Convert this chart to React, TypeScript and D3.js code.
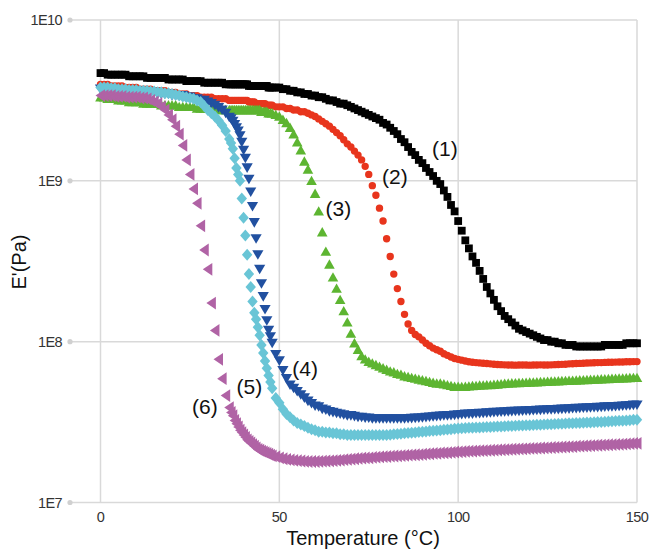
import React from "react";
import * as d3 from "d3";

// Temperature grid (°C) shared by all series
const temperature = [
  0, 1, 2, 3, 4, 5, 6, 7, 8, 9, 10, 11, 12, 13, 14, 15, 16, 17, 18, 19,
  20, 21, 22, 23, 24, 25, 26, 27, 28, 29, 30, 31, 32, 33, 34, 35, 36,
  36.5, 37, 37.5, 38, 38.5, 39, 39.5, 40,
  40.5, 41, 41.5, 42, 42.5, 43, 43.5, 44,
  44.5, 45, 45.5, 46, 46.5, 47, 47.5, 48,
  49, 50, 51, 52, 53, 54, 55, 56, 57, 58,
  59, 60, 61, 62, 63, 64, 65, 66, 67, 68,
  69, 70, 71, 72, 73, 74, 75, 76, 77, 78,
  79, 80, 81, 82, 83, 84, 85, 86, 87, 88,
  89, 90, 91, 92, 93, 94, 95, 96, 97, 98,
  99, 100, 101, 102, 103, 104, 105, 106, 107, 108,
  109, 110, 111, 112, 113, 114, 115, 116, 117, 118,
  119, 120, 121, 122, 123, 124, 125, 126, 127, 128,
  129, 130, 131, 132, 133, 134, 135, 136, 137, 138,
  139, 140, 141, 142, 143, 144, 145, 146, 147, 148,
  149, 150,
];

// log10 of E' (Pa)
const logE1 = [
  9.67, 9.67, 9.66, 9.66, 9.66, 9.66, 9.66, 9.66, 9.65, 9.65,
  9.65, 9.65, 9.65, 9.64, 9.64, 9.64, 9.64, 9.64, 9.64, 9.63,
  9.63, 9.63, 9.63, 9.63, 9.62, 9.62, 9.62, 9.62, 9.62, 9.61,
  9.61, 9.61, 9.61, 9.61, 9.61, 9.6, 9.6,
  9.6, 9.6, 9.6, 9.6, 9.6, 9.6, 9.6, 9.6,
  9.6, 9.6, 9.59, 9.59, 9.59, 9.59, 9.59, 9.59,
  9.59, 9.59, 9.59, 9.59, 9.59, 9.58, 9.58, 9.58,
  9.58, 9.58, 9.57, 9.57, 9.56, 9.56, 9.55, 9.55, 9.54, 9.54,
  9.53, 9.53, 9.52, 9.52, 9.51, 9.5, 9.5, 9.49, 9.48, 9.48,
  9.47, 9.46, 9.45, 9.44, 9.43, 9.42, 9.41, 9.4, 9.39, 9.38,
  9.36, 9.35, 9.33, 9.31, 9.29, 9.26, 9.24, 9.21, 9.18, 9.16,
  9.13, 9.11, 9.08, 9.055, 9.03, 9.0, 8.98, 8.94, 8.9, 8.85,
  8.81, 8.75, 8.69, 8.63, 8.58, 8.53, 8.49, 8.44, 8.39, 8.34,
  8.3, 8.26, 8.22, 8.19, 8.16, 8.14, 8.12, 8.1, 8.08, 8.07,
  8.06, 8.05, 8.04, 8.03, 8.02, 8.01, 8.01, 8.0, 8.0, 7.99,
  7.99, 7.98, 7.98, 7.98, 7.97, 7.97, 7.97, 7.97, 7.97, 7.97,
  7.97, 7.97, 7.98, 7.98, 7.98, 7.98, 7.98, 7.98, 7.99, 7.99,
  7.99, 7.99,
];

const logE2 = [
  9.6, 9.6, 9.6, 9.59, 9.59, 9.59, 9.59, 9.58, 9.58, 9.58,
  9.58, 9.57, 9.57, 9.57, 9.57, 9.56, 9.56, 9.56, 9.56, 9.55,
  9.55, 9.55, 9.54, 9.54, 9.54, 9.53, 9.53, 9.53, 9.52, 9.52,
  9.52, 9.52, 9.51, 9.51, 9.51, 9.51, 9.5,
  9.5, 9.5, 9.5, 9.5, 9.5, 9.5, 9.5, 9.5,
  9.5, 9.5, 9.49, 9.49, 9.49, 9.49, 9.48, 9.48,
  9.48, 9.48, 9.48, 9.48, 9.47, 9.47, 9.47, 9.47,
  9.46, 9.46, 9.46, 9.45, 9.45, 9.44, 9.44, 9.43, 9.43, 9.42,
  9.41, 9.4, 9.385, 9.37, 9.355, 9.34, 9.32, 9.3, 9.28, 9.255,
  9.23, 9.21, 9.185, 9.16, 9.13, 9.09, 9.04, 8.97, 8.91, 8.83,
  8.75, 8.64, 8.53, 8.42, 8.33, 8.25, 8.17, 8.11, 8.07, 8.045,
  8.03, 8.01, 7.99, 7.975, 7.96, 7.95, 7.94, 7.925, 7.915, 7.905,
  7.895, 7.89, 7.885, 7.88, 7.875, 7.872, 7.87, 7.868, 7.866, 7.864,
  7.862, 7.86, 7.858, 7.857, 7.856, 7.855, 7.855, 7.854, 7.855, 7.855,
  7.855, 7.854, 7.855, 7.855, 7.856, 7.855, 7.855, 7.856, 7.857, 7.858,
  7.859, 7.86, 7.862, 7.863, 7.864, 7.865, 7.866, 7.867, 7.868, 7.869,
  7.87, 7.87, 7.871, 7.872, 7.872, 7.873, 7.874, 7.874, 7.875, 7.875,
  7.876, 7.876,
];

const logE3 = [
  9.52, 9.52, 9.51, 9.51, 9.51, 9.5, 9.5, 9.5, 9.49, 9.49,
  9.49, 9.49, 9.48, 9.48, 9.48, 9.48, 9.48, 9.47, 9.47, 9.47,
  9.47, 9.47, 9.46, 9.46, 9.46, 9.46, 9.46, 9.45, 9.45, 9.45,
  9.45, 9.45, 9.45, 9.44, 9.44, 9.44, 9.44,
  9.44, 9.44, 9.44, 9.44, 9.44, 9.44, 9.44, 9.44,
  9.44, 9.44, 9.44, 9.44, 9.44, 9.44, 9.44, 9.44,
  9.44, 9.43, 9.43, 9.43, 9.43, 9.42, 9.42, 9.42,
  9.41, 9.4, 9.38, 9.36, 9.33, 9.29, 9.24, 9.19, 9.12, 9.07,
  9.0, 8.92, 8.81, 8.68, 8.56, 8.48, 8.4, 8.33, 8.26, 8.19,
  8.12, 8.05, 7.99, 7.95, 7.91, 7.89, 7.875, 7.865, 7.855, 7.845,
  7.835, 7.825, 7.815, 7.81, 7.8, 7.795, 7.785, 7.78, 7.775, 7.77,
  7.765, 7.76, 7.755, 7.75, 7.745, 7.74, 7.74, 7.735, 7.73, 7.725,
  7.72, 7.72, 7.719, 7.72, 7.722, 7.724, 7.725, 7.727, 7.728, 7.73,
  7.73, 7.732, 7.734, 7.736, 7.738, 7.74, 7.741, 7.742, 7.743, 7.744,
  7.745, 7.746, 7.747, 7.748, 7.749, 7.75, 7.751, 7.752, 7.753, 7.754,
  7.755, 7.756, 7.757, 7.758, 7.759, 7.76, 7.761, 7.762, 7.763, 7.764,
  7.765, 7.766, 7.767, 7.768, 7.769, 7.77, 7.771, 7.772, 7.773, 7.774,
  7.775, 7.775,
];

const logE4 = [
  9.57, 9.57, 9.57, 9.57, 9.56, 9.56, 9.56, 9.56, 9.56, 9.56,
  9.56, 9.55, 9.55, 9.55, 9.55, 9.55, 9.54, 9.54, 9.54, 9.54,
  9.53, 9.53, 9.53, 9.53, 9.52, 9.52, 9.51, 9.51, 9.5, 9.5,
  9.49, 9.48, 9.47, 9.455, 9.44, 9.42, 9.395,
  9.385, 9.37, 9.35, 9.33, 9.31, 9.28, 9.24, 9.19,
  9.14, 9.08, 9.01, 8.93, 8.84, 8.74, 8.64, 8.54,
  8.45, 8.36, 8.28, 8.2, 8.13, 8.07, 8.03, 7.99,
  7.92, 7.88, 7.82, 7.77, 7.73, 7.71, 7.69, 7.67, 7.65, 7.63,
  7.615, 7.6, 7.595, 7.58, 7.575, 7.565, 7.56, 7.555, 7.55, 7.545,
  7.54, 7.54, 7.535, 7.53, 7.53, 7.525, 7.525, 7.52, 7.52, 7.52,
  7.52, 7.52, 7.52, 7.52, 7.52, 7.52, 7.52, 7.522, 7.523, 7.524,
  7.525, 7.527, 7.529, 7.531, 7.533, 7.535, 7.537, 7.539, 7.54, 7.541,
  7.543, 7.545, 7.547, 7.549, 7.55, 7.551, 7.553, 7.554, 7.555, 7.557,
  7.558, 7.56, 7.561, 7.562, 7.564, 7.565, 7.566, 7.567, 7.568, 7.569,
  7.57, 7.571, 7.572, 7.573, 7.574, 7.575, 7.576, 7.577, 7.578, 7.579,
  7.58, 7.581, 7.582, 7.584, 7.585, 7.586, 7.587, 7.588, 7.589, 7.59,
  7.591, 7.592, 7.594, 7.595, 7.596, 7.597, 7.598, 7.6, 7.601, 7.603,
  7.605, 7.606,
];

const logE5 = [
  9.58, 9.58, 9.58, 9.575, 9.575, 9.57, 9.57, 9.57, 9.565, 9.565,
  9.565, 9.56, 9.56, 9.56, 9.555, 9.555, 9.55, 9.55, 9.545, 9.545,
  9.54, 9.535, 9.53, 9.525, 9.52, 9.515, 9.51, 9.5, 9.49, 9.465,
  9.44, 9.42, 9.4, 9.375, 9.345, 9.31, 9.26,
  9.235, 9.2, 9.14, 9.08, 9.04, 9.0, 8.89, 8.77,
  8.66, 8.54, 8.42, 8.34, 8.25, 8.18, 8.14, 8.09,
  8.04, 7.98, 7.93, 7.88, 7.835, 7.79, 7.75, 7.71,
  7.65, 7.62, 7.58, 7.55, 7.53, 7.51, 7.495, 7.485, 7.475, 7.465,
  7.455, 7.45, 7.44, 7.44, 7.435, 7.435, 7.43, 7.43, 7.425, 7.425,
  7.42, 7.42, 7.42, 7.42, 7.42, 7.42, 7.42, 7.42, 7.42, 7.42,
  7.42, 7.42, 7.422, 7.424, 7.426, 7.428, 7.43, 7.432, 7.434, 7.436,
  7.438, 7.44, 7.442, 7.444, 7.446, 7.448, 7.45, 7.452, 7.454, 7.456,
  7.458, 7.46, 7.462, 7.463, 7.464, 7.465, 7.466, 7.467, 7.468, 7.469,
  7.47, 7.471, 7.472, 7.473, 7.474, 7.475, 7.476, 7.477, 7.478, 7.479,
  7.48, 7.481, 7.482, 7.483, 7.484, 7.485, 7.486, 7.487, 7.488, 7.489,
  7.49, 7.491, 7.492, 7.493, 7.494, 7.495, 7.496, 7.497, 7.498, 7.499,
  7.5, 7.501, 7.502, 7.504, 7.505, 7.506, 7.508, 7.509, 7.51, 7.512,
  7.514, 7.515,
];

const logE6 = [
  9.53, 9.53, 9.53, 9.53, 9.525, 9.525, 9.525, 9.52, 9.52, 9.52,
  9.52, 9.515, 9.515, 9.51, 9.5, 9.49, 9.48, 9.46, 9.44, 9.41,
  9.38, 9.34, 9.29, 9.22, 9.13, 9.04, 8.95, 8.86, 8.72, 8.57,
  8.45, 8.24, 8.07, 7.89, 7.77, 7.665, 7.59,
  7.56, 7.54, 7.51, 7.49, 7.47, 7.45, 7.435, 7.42,
  7.405, 7.39, 7.38, 7.37, 7.36, 7.35, 7.34, 7.33,
  7.325, 7.32, 7.315, 7.31, 7.305, 7.3, 7.295, 7.29,
  7.285, 7.278, 7.272, 7.268, 7.265, 7.262, 7.26, 7.258, 7.256, 7.255,
  7.255, 7.255, 7.256, 7.257, 7.258, 7.259, 7.26, 7.262, 7.264, 7.266,
  7.268, 7.27, 7.272, 7.274, 7.276, 7.277, 7.278, 7.28, 7.282, 7.284,
  7.285, 7.286, 7.288, 7.289, 7.29, 7.292, 7.293, 7.295, 7.296, 7.297,
  7.298, 7.3, 7.302, 7.303, 7.305, 7.306, 7.308, 7.309, 7.31, 7.312,
  7.314, 7.315, 7.316, 7.318, 7.319, 7.32, 7.321, 7.322, 7.323, 7.324,
  7.325, 7.326, 7.327, 7.328, 7.329, 7.33, 7.331, 7.332, 7.333, 7.334,
  7.335, 7.336, 7.337, 7.338, 7.339, 7.34, 7.341, 7.342, 7.343, 7.344,
  7.345, 7.346, 7.347, 7.348, 7.35, 7.351, 7.352, 7.353, 7.354, 7.355,
  7.356, 7.357, 7.358, 7.359, 7.36, 7.361, 7.362, 7.363, 7.365, 7.366,
  7.367, 7.368,
];

const seriesNames = ["(1)", "(2)", "(3)", "(4)", "(5)", "(6)"];
const xTicks = [0, 50, 100, 150];
const yTicks = [1e7, 1e8, 1e9, 1e10];
const yTickLabels = ["1E7", "1E8", "1E9", "1E10"];
// label anchor points in data units [temperature, log10 E']
const labelTemps = [96.3, 82.3, 66.5, 57.2, 41.6, 29.2];
const labelLogE = [9.2, 9.024, 8.83, 7.835, 7.72, 7.596];

const W = 650;
const H = 550;
const plot = { left: 100.5, right: 637, top: 20, bottom: 502.5 };

const colors = ["#000000", "#e8351d", "#5db531", "#2150a0", "#69c5d6", "#b063a5"];
const shapes = [
  "M-3.9,-3.9H3.9V3.9H-3.9Z",
  "M3.7,0A3.7,3.7 0 1 1 -3.7,0A3.7,3.7 0 1 1 3.7,0Z",
  "M0,-5.2L5.3,4.2L-5.3,4.2Z",
  "M0,5L5.6,-4.6L-5.6,-4.6Z",
  "M0,-6L5.2,0L0,6L-5.2,0Z",
  "M-5,0L4.5,-6.4L4.5,6.4Z",
];

const allSeries = [logE1, logE2, logE3, logE4, logE5, logE6];

export default function App() {
  const x = d3.scaleLinear().domain([0, 150]).range([plot.left, plot.right]);
  const y = d3.scaleLog().domain([1e7, 1e10]).range([plot.bottom, plot.top]);
  const font = "'Liberation Sans', Arial, Helvetica, sans-serif";
  const tickColor = "#333";
  const gridColor = "#d9d9d9";

  return (
    <svg
      width={W}
      height={H}
      style={{ position: "absolute", left: 0, top: 0, background: "#fff" }}
      fontFamily={font}
    >
      <rect x={0} y={0} width={W} height={H} fill="#fff" />
      {/* horizontal gridlines */}
      {yTicks.map((t, i) => (
        <g key={"hy" + i}>
          <line x1={70} x2={plot.right} y1={y(t)} y2={y(t)} stroke={gridColor} strokeWidth={1.5} />
          <circle cx={70} cy={y(t)} r={2.6} fill="#d0d0d0" />
          <text
            x={62}
            y={y(t)}
            dy="0.36em"
            textAnchor="end"
            fontSize={14.5}
            letterSpacing={-0.6}
            fill={tickColor}
          >
            {yTickLabels[i]}
          </text>
        </g>
      ))}
      {/* vertical gridlines */}
      {xTicks.map((t, i) => (
        <g key={"vx" + i}>
          <line x1={x(t)} x2={x(t)} y1={plot.top} y2={plot.bottom} stroke={gridColor} strokeWidth={1.5} />
          <text x={x(t)} y={522} textAnchor="middle" fontSize={14.5} letterSpacing={-0.6} fill={tickColor}>
            {t}
          </text>
        </g>
      ))}
      {/* series */}
      {allSeries.map((vals, si) => {
        const n = Math.min(vals.length, temperature.length);
        const pts = [];
        for (let k = 0; k < n; k++) {
          pts.push(
            <path
              key={k}
              d={shapes[si]}
              transform={`translate(${x(temperature[k]).toFixed(2)},${y(Math.pow(10, vals[k])).toFixed(2)})`}
              fill={colors[si]}
            />
          );
        }
        return <g key={"s" + si}>{pts}</g>;
      })}
      {/* series labels */}
      {seriesNames.map((s, i) => (
        <text
          key={"l" + i}
          x={x(labelTemps[i])}
          y={y(Math.pow(10, labelLogE[i]))}
          dy="0.35em"
          textAnchor="middle"
          fontSize={21}
          fill="#111"
        >
          {s}
        </text>
      ))}
      {/* axis titles */}
      <text x={363} y={545} textAnchor="middle" fontSize={20} fill="#111">
        Temperature (°C)
      </text>
      <text
        transform="translate(26,262) rotate(-90)"
        textAnchor="middle"
        fontSize={20}
        fill="#111"
      >
        E'(Pa)
      </text>
    </svg>
  );
}
